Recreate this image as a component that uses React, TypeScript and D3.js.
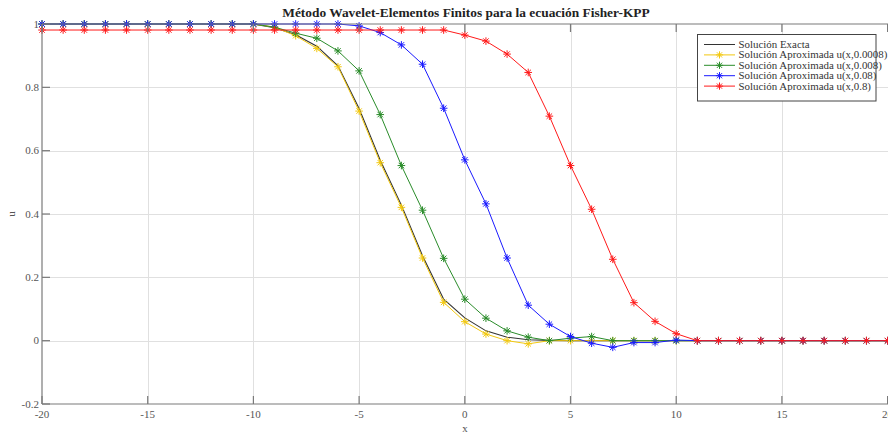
import React, { useRef, useEffect } from 'react';
import * as d3 from 'd3';

// x grid of the solutions
const xs = [-20, -19, -18, -17, -16, -15, -14, -13, -12, -11, -10, -9, -8, -7, -6, -5, -4, -3, -2, -1,
  0, 1, 2, 3, 4, 5, 6, 7, 8, 9, 10, 11, 12, 13, 14, 15, 16, 17, 18, 19, 20];

const exacta = [1, 1, 1, 1, 1, 1, 1, 1, 1, 1, 1, 0.988, 0.966, 0.93, 0.868, 0.733, 0.57, 0.428, 0.268, 0.131,
  0.072, 0.031, 0.011, 0.003, 0.001, 0, 0, 0, 0, 0, 0, 0, 0, 0, 0, 0, 0, 0, 0, 0, 0];

const aprox0008 = [1, 1, 1, 1, 1, 1, 1, 1, 1, 1, 1, 0.99, 0.963, 0.923, 0.865, 0.725, 0.562, 0.421, 0.261, 0.121,
  0.06, 0.021, 0.0, -0.01, 0.0, 0, 0, 0, 0, 0, 0, 0, 0, 0, 0, 0, 0, 0, 0, 0, 0];

const aprox008 = [1, 1, 1, 1, 1, 1, 1, 1, 1, 1, 1, 0.99, 0.971, 0.955, 0.915, 0.852, 0.714, 0.553, 0.412, 0.26,
  0.131, 0.071, 0.031, 0.011, 0.0, 0.008, 0.013, 0, 0, 0, 0, 0, 0, 0, 0, 0, 0, 0, 0, 0, 0];

const aprox08 = [1, 1, 1, 1, 1, 1, 1, 1, 1, 1, 1, 1, 1, 1, 1, 0.994, 0.973, 0.934, 0.873, 0.734,
  0.571, 0.432, 0.261, 0.112, 0.052, 0.013, -0.008, -0.021, -0.006, -0.006, 0.002, 0, 0, 0, 0, 0, 0, 0, 0, 0, 0];

const aprox8 = [0.981, 0.981, 0.981, 0.981, 0.981, 0.981, 0.981, 0.981, 0.981, 0.981, 0.981, 0.981, 0.981, 0.981, 0.981, 0.981, 0.981, 0.981, 0.981, 0.981,
  0.965, 0.946, 0.905, 0.847, 0.709, 0.553, 0.415, 0.257, 0.12, 0.061, 0.022, 0, 0, 0, 0, 0, 0, 0, 0, 0, 0];

const xTicks = [-20, -15, -10, -5, 0, 5, 10, 15, 20];
const yTicks = [-0.2, 0, 0.2, 0.4, 0.6, 0.8, 1];

const series = [
  { name: 'Solución Exacta', values: exacta, color: '#333333', marker: false },
  { name: 'Solución Aproximada u(x,0.0008)', values: aprox0008, color: '#f2c80f', marker: true },
  { name: 'Solución Aproximada u(x,0.008)', values: aprox008, color: '#2a8c2a', marker: true },
  { name: 'Solución Aproximada u(x,0.08)', values: aprox08, color: '#1a1aff', marker: true },
  { name: 'Solución Aproximada u(x,0.8)', values: aprox8, color: '#ff1a1a', marker: true },
];

const FONT = '"Liberation Serif", "DejaVu Serif", serif';

// matlab '*' marker: a plus and a cross
const star = (r: number) => {
  const d = r * 0.72;
  return `M${-r},0L${r},0M0,${-r}L0,${r}M${-d},${-d}L${d},${d}M${-d},${d}L${d},${-d}`;
};

export default function App() {
  const svgRef = useRef<SVGSVGElement>(null);

  useEffect(() => {
    const width = 888;
    const height = 434;
    const left = 42;
    const top = 24;
    const bottom = 404;

    const x = d3.scaleLinear().domain([-20, 20]).range([left, 887.6]);
    const y = d3.scaleLinear().domain([-0.2, 1]).range([bottom, top]);

    const svg = d3.select(svgRef.current)
      .attr('width', width)
      .attr('height', height);
    svg.selectAll('*').remove();

    svg.append('rect').attr('width', width).attr('height', height).attr('fill', '#ffffff');

    // grid
    const grid = svg.append('g').attr('stroke', '#e0e0e0').attr('stroke-width', 1);
    xTicks.slice(1, -1).forEach(t => {
      grid.append('line').attr('x1', Math.round(x(t)) + 0.5).attr('x2', Math.round(x(t)) + 0.5)
        .attr('y1', top).attr('y2', bottom);
    });
    yTicks.slice(1, -1).forEach(t => {
      grid.append('line').attr('y1', Math.round(y(t)) + 0.5).attr('y2', Math.round(y(t)) + 0.5)
        .attr('x1', left).attr('x2', width);
    });

    // curves
    const line = d3.line<number>()
      .x((d, i) => x(xs[i]))
      .y(d => y(d));

    series.forEach(s => {
      svg.append('path')
        .datum(s.values)
        .attr('d', line)
        .attr('fill', 'none')
        .attr('stroke', s.color)
        .attr('stroke-width', s.marker ? 1 : 1.1);
      if (s.marker) {
        svg.append('g').selectAll('path')
          .data(s.values)
          .join('path')
          .attr('transform', (d, i) => `translate(${x(xs[i])},${y(d)})`)
          .attr('d', star(3.8))
          .attr('stroke', s.color)
          .attr('stroke-width', 1)
          .attr('fill', 'none');
      }
    });

    // axes box + inner ticks
    const axisColor = '#7a7a7a';
    const ax = svg.append('g').attr('stroke', axisColor).attr('stroke-width', 1.2).attr('fill', 'none');
    ax.append('line').attr('x1', left).attr('x2', width).attr('y1', bottom).attr('y2', bottom);
    ax.append('line').attr('x1', left).attr('x2', width).attr('y1', top).attr('y2', top);
    ax.append('line').attr('x1', left).attr('x2', left).attr('y1', top).attr('y2', bottom);
    xTicks.forEach(t => {
      ax.append('line').attr('x1', x(t)).attr('x2', x(t)).attr('y1', bottom).attr('y2', bottom - 8);
      ax.append('line').attr('x1', x(t)).attr('x2', x(t)).attr('y1', top).attr('y2', top + 8);
    });
    yTicks.forEach(t => {
      ax.append('line').attr('x1', left).attr('x2', left + 8).attr('y1', y(t)).attr('y2', y(t));
    });

    // tick labels
    svg.append('g').selectAll('text')
      .data(xTicks)
      .join('text')
      .attr('x', d => x(d))
      .attr('y', 418)
      .attr('text-anchor', 'middle')
      .attr('font-family', FONT)
      .attr('font-size', 11)
      .attr('fill', '#555')
      .text(d => String(d));

    svg.append('g').selectAll('text')
      .data(yTicks)
      .join('text')
      .attr('x', 39)
      .attr('y', d => y(d) + 3.5)
      .attr('text-anchor', 'end')
      .attr('font-family', FONT)
      .attr('font-size', 11)
      .attr('fill', '#555')
      .text(d => String(d));

    // labels
    svg.append('text')
      .attr('x', 465).attr('y', 432)
      .attr('text-anchor', 'middle')
      .attr('font-family', FONT).attr('font-size', 11).attr('fill', '#555')
      .text('x');
    svg.append('text')
      .attr('transform', `translate(15,${y(0.4)}) rotate(-90)`)
      .attr('text-anchor', 'middle')
      .attr('font-family', FONT).attr('font-size', 11).attr('fill', '#555')
      .text('u');
    svg.append('text')
      .attr('x', 466).attr('y', 17)
      .attr('text-anchor', 'middle')
      .attr('font-family', FONT).attr('font-size', 13.4).attr('font-weight', 'bold').attr('fill', '#222')
      .text('Método Wavelet-Elementos Finitos para la ecuación Fisher-KPP');

    // legend
    const lg = svg.append('g');
    lg.append('rect')
      .attr('x', 697.5).attr('y', 34.5).attr('width', 178.5).attr('height', 66.5)
      .attr('fill', '#fff').attr('stroke', '#444').attr('stroke-width', 1);
    series.forEach((s, i) => {
      const ly = 44.5 + i * 10.4;
      lg.append('line').attr('x1', 704).attr('x2', 735).attr('y1', ly).attr('y2', ly)
        .attr('stroke', s.color).attr('stroke-width', 1);
      if (s.marker) {
        lg.append('path').attr('transform', `translate(719.5,${ly})`).attr('d', star(3.6))
          .attr('stroke', s.color).attr('fill', 'none');
      }
      lg.append('text')
        .attr('x', 738.5).attr('y', ly + 3.4)
        .attr('font-family', FONT).attr('font-size', 10.9).attr('fill', '#333')
        .text(s.name);
    });
  }, []);

  return (
    <svg ref={svgRef} style={{ position: 'absolute', left: 0, top: 0, display: 'block' }}></svg>
  );
}
